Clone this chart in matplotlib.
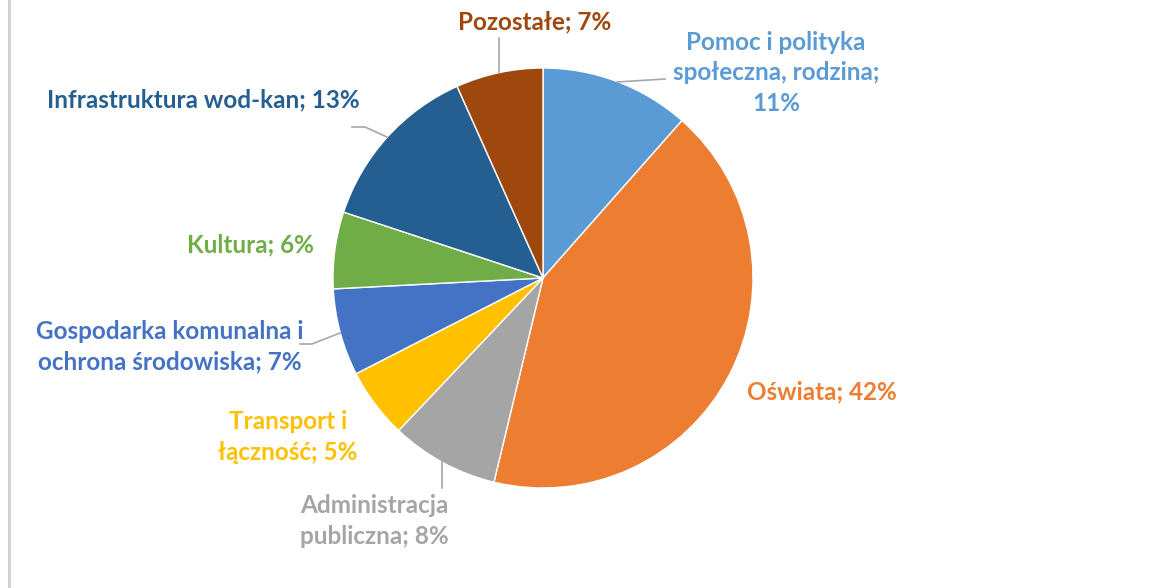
import matplotlib as mpl
import matplotlib.pyplot as plt

mpl.rcParams.update({
    "font.family": ["Lato", "DejaVu Sans"],
    "font.weight": "bold",
})

# data, clockwise from 12 o'clock
categories = [
    "Pomoc i polityka\nspołeczna, rodzina",
    "Oświata",
    "Administracja\npubliczna",
    "Transport i\nłączność",
    "Gospodarka komunalna i\nochrona środowiska",
    "Kultura",
    "Infrastruktura wod-kan",
    "Pozostałe",
]
shares = [11.5, 42.2, 8.3, 5.4, 6.7, 5.9, 13.2, 6.7]
pct_labels = ["11%", "42%", "8%", "5%", "7%", "6%", "13%", "7%"]
colors = ["#5B9BD5", "#ED7D31", "#A5A5A5", "#FFC000",
          "#4472C4", "#70AD47", "#255E91", "#9E480E"]

W, H = 1153, 588

fig = plt.figure(figsize=(W / 100, H / 100), dpi=100)
ax = fig.add_axes([0, 0, 1, 1])

# pixel helper (y measured from top)
def py(y):
    return H - y

ax.pie(shares, colors=colors, startangle=90, counterclock=False,
       center=(543, py(278)), radius=210, frame=True,
       wedgeprops=dict(edgecolor="white", linewidth=1.0))
ax.set_xlim(0, W)
ax.set_ylim(0, H)
ax.set_aspect("equal")
ax.axis("off")

# label positions (centre of text block, pixels from top-left)
label_pos = [(776, 73), (822, 392), (374, 521), (288, 437),
             (170, 347), (250, 245), (203, 100), (535, 22)]

for name, pct, col, (x, y) in zip(categories, pct_labels, colors, label_pos):
    if name.startswith("Pomoc"):
        txt = name + ";\n" + pct
    else:
        txt = f"{name}; {pct}"
    ax.text(x, py(y), txt, color=col, ha="center", va="center",
            fontsize=17.5, fontweight="bold", linespacing=1.4)

# leader lines
leader = "#A6A6A6"
ax.plot([499, 499], [py(38), py(73)], color=leader, lw=1.2)
ax.plot([617, 665], [py(82), py(79)], color=leader, lw=1.2)
ax.plot([352, 365, 387], [py(127), py(127), py(137)], color=leader, lw=1.2)
ax.plot([300, 312, 340], [py(344), py(344), py(333)], color=leader, lw=1.2)
ax.plot([442, 442], [py(462), py(488)], color=leader, lw=1.2)

# chart border on the left
ax.plot([8.5, 8.5], [0, H], color="#D0D0D0", lw=2)

fig.savefig("out.png", dpi=100)
